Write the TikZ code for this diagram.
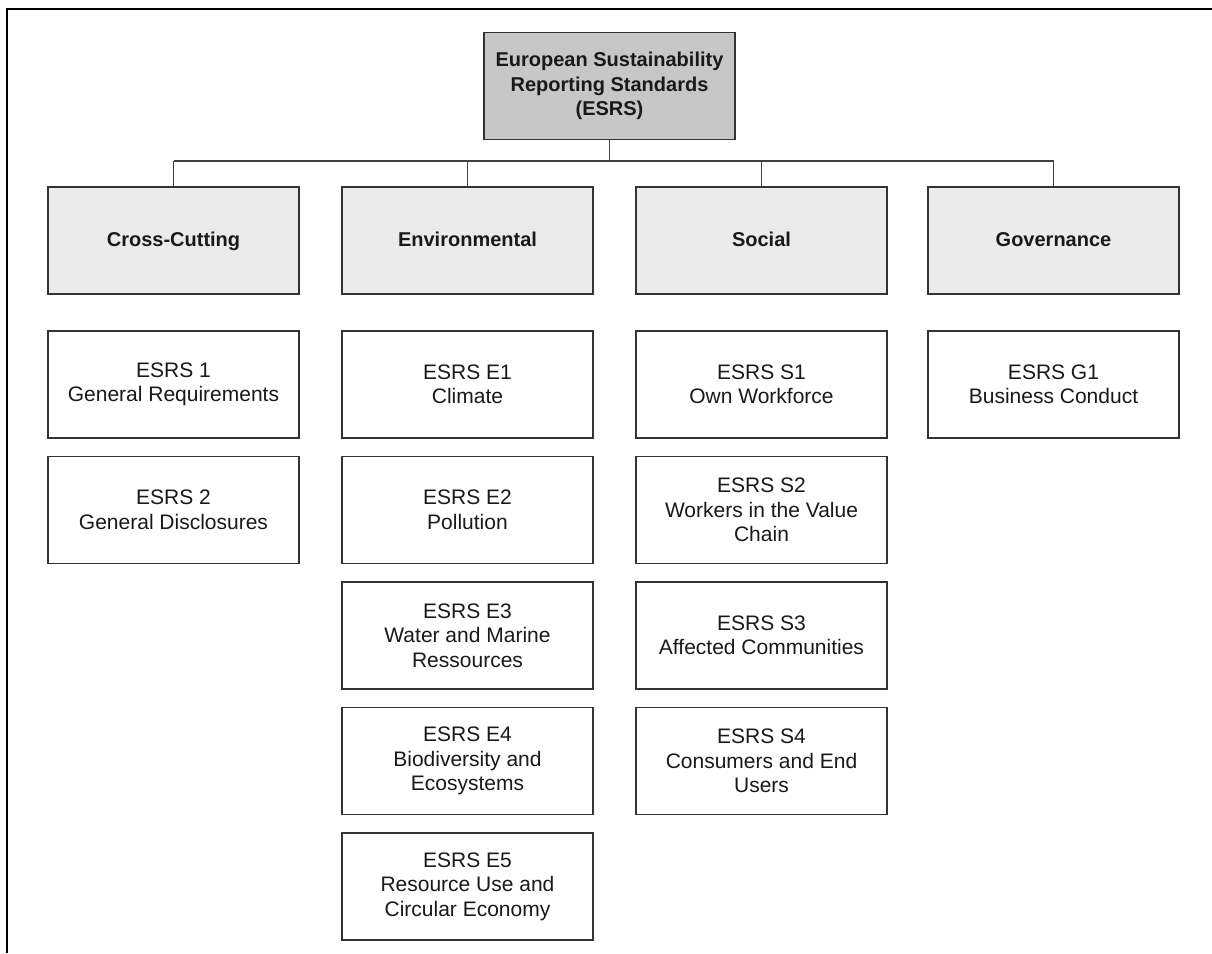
\documentclass[tikz,border=0pt]{standalone}
\usepackage{fontspec}
\setmainfont{Liberation Sans}
\usepackage{tikz}
\tikzset{box/.style={draw=black!80, line width=1.3pt, minimum width=251pt, minimum height=107pt, align=center, inner sep=0pt, font=\fontsize{21}{24.5}\selectfont, text=black!90},
% grey header boxes
head/.style={box, fill=black!22, font=\fontsize{20}{24.5}\selectfont\bfseries},
pillar/.style={box, fill=black!8, font=\fontsize{20}{24}\selectfont\bfseries, text height=15pt, text depth=4pt},
leaf/.style={box, fill=white},
link/.style={draw=black!75, line width=1.2pt}}

\begin{document}
\begin{tikzpicture}[x=1pt,y=-1pt]
\useasboundingbox (0,0) rectangle (1212,953);
% frame (top and left only)
\draw[line width=2pt] (7,953) -- (7,9) -- (1212,9);

% root
\node[head] (esrs) at (609.5,86) {European Sustainability\\Reporting Standards\\(ESRS)};

% pillars
\node[pillar] (cc) at (173.5,240.5) {Cross-Cutting};
\node[pillar] (env) at (467.5,240.5) {Environmental};
\node[pillar] (soc) at (761.5,240.5) {Social};
\node[pillar] (gov) at (1053.5,240.5) {Governance};

% tree lines
\coordinate (bar) at (609.5,161);
\draw[link] (esrs.south) -- (bar);
\draw[link] (cc.north |- bar) -- (gov.north |- bar);
\foreach \p in {cc,env,soc,gov}
     \draw[link] (\p.north) -- (\p.north |- bar);

% standards
\foreach \i/\txt in {1/{ESRS 1\\General Requirements}, 2/{ESRS 2\\General Disclosures}}
     \node[leaf] (cc\i) at (173.5,{384.5+125.5*(\i-1)}) {\txt};

\foreach \i/\txt in {1/{ESRS E1\\Climate}, 2/{ESRS E2\\Pollution},
                     3/{ESRS E3\\Water and Marine\\Ressources},
                     4/{ESRS E4\\Biodiversity and\\Ecosystems},
                     5/{ESRS E5\\Resource Use and\\Circular Economy}}
     \node[leaf] (env\i) at (467.5,{384.5+125.5*(\i-1)}) {\txt};

\foreach \i/\txt in {1/{ESRS S1\\Own Workforce}, 2/{ESRS S2\\Workers in the Value\\Chain},
                     3/{ESRS S3\\Affected Communities},
                     4/{ESRS S4\\Consumers and End\\Users}}
     \node[leaf] (soc\i) at (761.5,{384.5+125.5*(\i-1)}) {\txt};

\node[leaf] (gov1) at (1053.5,384.5) {ESRS G1\\Business Conduct};

\end{tikzpicture}
\end{document}
